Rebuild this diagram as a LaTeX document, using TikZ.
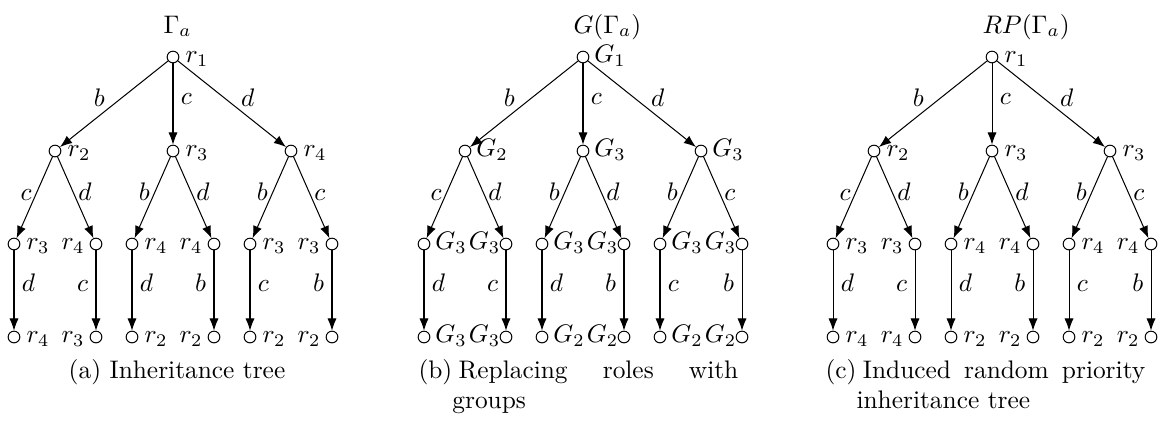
\documentclass[tikz,border=0pt]{standalone}
\usetikzlibrary{arrows.meta}

% one inheritance tree: [options], x of root, name, title, root label,
% per subtree: parent/left child/left leaf/right child/right leaf
\newcommand{\inhtree}[6][]{%
  \begin{scope}[shift={(#2,0)},#1]
    \node (#3t) [title] at (-10,33) {$#4$};
    \node (#3) [vtx,labr=#5] at (0,57) {};
    \foreach \lp/\lc/\ll/\rc/\rl [count=\j] in {#6} {
      \ifcase\j\or\def\dx{-118}\def\ea{c}\def\eb{d}%
      \or\def\dx{0}\def\ea{b}\def\eb{d}%
      \or\def\dx{118}\def\ea{b}\def\eb{c}\fi
      \node (#3-\j) [vtx,labr=\lp] at (\dx,151) {};
      \node (#3-\j-l) [vtx,labr=\lc] at (\dx-41,244) {};
      \node (#3-\j-r) [vtx,labl=\rc] at (\dx+41,244) {};
      \node (#3-\j-ll) [vtx,labr=\ll] at (\dx-41,337) {};
      \node (#3-\j-rl) [vtx,labl=\rl] at (\dx+41,337) {};
      \draw[->] (#3-\j) -- node[el]{$\ea$} (#3-\j-l);
      \draw[->] (#3-\j) -- node[er]{$\eb$} (#3-\j-r);
      \draw[->] (#3-\j-l) -- node[vr]{$\eb$} (#3-\j-ll);
      \draw[->] (#3-\j-r) -- node[vl]{$\ea$} (#3-\j-rl);
    }
    \draw[->] (#3) -- node[tl]{$b$} (#3-1);
    \draw[->] (#3) -- node[vr]{$c$} (#3-2);
    \draw[->] (#3) -- node[tr]{$d$} (#3-3);
  \end{scope}}

\begin{document}
\begin{tikzpicture}[x=0.394pt,y=-0.394pt,>=Latex,
  vtx/.style={circle,draw,inner sep=0pt,minimum size=4.6pt},
  rsep/.style={inner sep=2.3pt},
  lsep/.style={inner sep=1.8pt},
  labr/.style={label={[rsep,anchor=mid west]right:$#1$}},
  labl/.style={label={[lsep,anchor=mid east]left:$#1$}},
  elab/.style={inner sep=1.5pt,text height=6.9pt,text depth=0pt},
  tl/.style={elab,auto,swap,pos=.58,inner xsep=0pt},
  tr/.style={elab,auto,pos=.58,inner xsep=0pt},
  el/.style={elab,left,pos=.43,inner xsep=1.9pt},
  er/.style={elab,right,pos=.43,inner xsep=1.9pt},
  vl/.style={elab,left,pos=.4,inner xsep=2.9pt},
  vr/.style={elab,right,pos=.4,inner xsep=2.9pt},
  title/.style={anchor=base west,inner sep=0pt},
  capbox/.style={anchor=base west,inner sep=0pt,text width=126pt,align=justify}]
\useasboundingbox (0,0) rectangle (1164,426);

\inhtree{173}{a}{\Gamma_a}{r_1}{r_2/r_3/r_4/r_4/r_3, r_3/r_4/r_2/r_4/r_2, r_4/r_3/r_2/r_3/r_2}
\inhtree[rsep/.style={inner sep=1.8pt},lsep/.style={inner sep=-0.4pt}]{583}{b}{G(\Gamma_a)}{G_1}{G_2/G_3/G_3/G_3/G_3, G_3/G_3/G_2/G_3/G_2, G_3/G_3/G_2/G_3/G_2}
\inhtree{992}{c}{RP(\Gamma_a)}{r_1}{r_2/r_3/r_4/r_3/r_4, r_3/r_4/r_2/r_4/r_2, r_3/r_4/r_2/r_4/r_2}

% captions
\node (capa) [anchor=base,inner sep=0pt] at (177,378) {(a) Inheritance tree};
\node (capb) [capbox] at (418,378)
  {\setbox0\hbox{(b)}\hangindent=\wd0\hangafter=1\noindent\box0\kern2.5pt Replacing roles with groups\par};
\node (capc) [capbox] at (825,378)
  {\setbox0\hbox{(c)}\hangindent=\wd0\hangafter=1\noindent\box0\kern2.5pt Induced random priority inheritance tree\par};
\end{tikzpicture}
\end{document}
